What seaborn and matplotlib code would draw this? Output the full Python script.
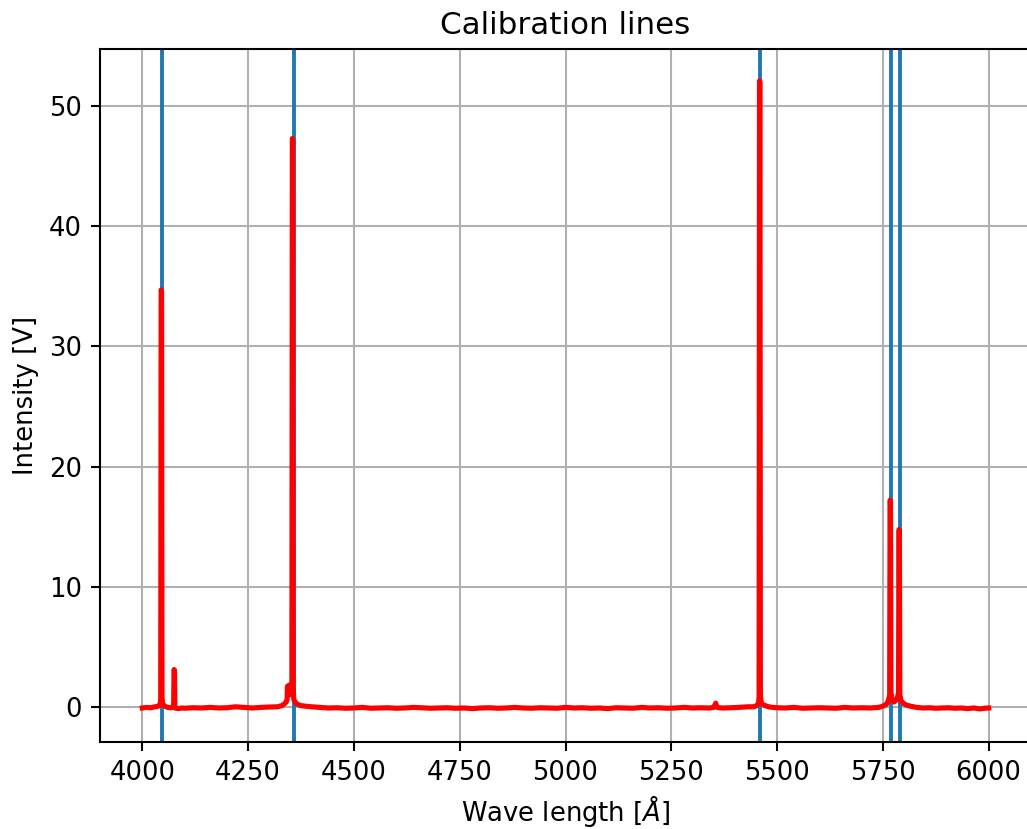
import matplotlib
matplotlib.use("Agg")
import matplotlib.pyplot as plt
import seaborn as sns
import pandas as pd

plt.rcParams["path.simplify"] = False

# Mercury calibration line positions (Angstrom)
calibration_lines = [4046.56, 4358.33, 5460.74, 5769.60, 5790.66]

wl_a = [4000, 4010, 4020, 4030, 4038, 4042, 4043.5, 4044.5, 4045.5, 4046.5, 4048, 4053, 4060,
        4068, 4074, 4075, 4076, 4077, 4085, 4095]
in_a = [-0.10, -0.05, -0.08, 0.00, 0.05, 0.15, 0.6, 34.7, 34.6, 0.8, 0.25, 0.05, -0.05,
        -0.08, 0.0, 3.1, 3.0, -0.1, -0.15, -0.10]

wl_b = [4100, 4120, 4140, 4160, 4180, 4200, 4220, 4240, 4260, 4280, 4300, 4320,
        4330, 4336, 4340, 4342, 4343, 4347, 4349, 4352, 4353.5, 4354.5, 4355.5, 4356.5,
        4358, 4362, 4367, 4375, 4385, 4400]
in_b = [-0.12, -0.08, -0.10, -0.05, -0.10, -0.08, 0.00, -0.05, -0.10, -0.05, -0.02, 0.00,
        0.10, 0.25, 0.40, 0.60, 1.7, 1.8, 1.0, 1.2, 2.0, 47.3, 47.2, 1.5,
        0.6, 0.35, 0.20, 0.10, 0.05, 0.00]

wl_c = [4420, 4440, 4460, 4480, 4500, 4520, 4540, 4560, 4580, 4600, 4620, 4640,
        4660, 4680, 4700, 4720, 4740, 4760, 4780, 4800, 4820, 4840, 4860, 4880,
        4900, 4920, 4940, 4960, 4980, 5000, 5020, 5040, 5060, 5080, 5100, 5120,
        5140, 5160, 5180, 5200, 5220, 5240, 5260, 5280, 5300, 5320, 5340, 5350,
        5355, 5358, 5370, 5390, 5410, 5430, 5445]
in_c = [-0.05, -0.10, -0.08, -0.12, -0.10, -0.05, -0.12, -0.10, -0.08, -0.12, -0.10, -0.05,
        -0.08, -0.12, -0.10, -0.08, -0.12, -0.10, -0.15, -0.10, -0.08, -0.12, -0.10, -0.05,
        -0.10, -0.12, -0.08, -0.10, -0.12, -0.05, -0.10, -0.08, -0.12, -0.10, -0.15, -0.08,
        -0.10, -0.12, -0.05, -0.10, -0.08, -0.12, -0.10, -0.05, -0.10, -0.08, -0.10, -0.05,
        0.30, -0.05, -0.10, -0.08, -0.05, 0.00, 0.00]

wl_d = [5452, 5456, 5457.5, 5458.5, 5459.5, 5460.5, 5462, 5466, 5472, 5480, 5490, 5500, 5520,
        5540, 5560, 5580, 5600, 5620, 5640, 5660, 5680, 5700, 5720, 5740, 5750,
        5758, 5763, 5766, 5767, 5768, 5769, 5772, 5776, 5780, 5784, 5787, 5788,
        5789, 5790, 5793, 5798, 5805, 5815]
in_d = [0.10, 0.30, 0.8, 52.1, 52.0, 1.0, 0.40, 0.20, 0.10, 0.00, -0.05, -0.08, -0.10,
        -0.05, -0.12, -0.10, -0.08, -0.10, -0.12, -0.05, -0.10, -0.08, -0.10, -0.05, 0.05,
        0.20, 0.50, 1.0, 17.2, 17.1, 1.2, 0.60, 0.40, 0.50, 0.70, 1.2, 14.75,
        14.7, 1.0, 0.50, 0.30, 0.15, 0.05]

wl_e = [5830, 5845, 5860, 5875, 5890, 5905, 5920, 5935, 5950, 5965, 5980, 5990, 6000]
in_e = [-0.05, -0.10, -0.08, -0.12, -0.10, -0.08, -0.12, -0.10, -0.15, -0.10, -0.18, -0.12, -0.10]

df = pd.DataFrame({
    "wavelength": wl_a + wl_b + wl_c + wl_d + wl_e,
    "intensity": in_a + in_b + in_c + in_d + in_e,
})

DPI = 186
fig = plt.figure(figsize=(1027 / DPI, 829 / DPI), dpi=DPI)
ax = fig.add_axes([100 / 1027, 87 / 829, 931 / 1027, 693 / 829])
ax.grid(True, color="#b0b0b0", linewidth=0.8)
ax.set_axisbelow(True)

for lam in calibration_lines:
    ax.axvline(lam, color="#1f77b4", linewidth=1.5, zorder=2)
sns.lineplot(data=df, x="wavelength", y="intensity", color="red", linewidth=2.0,
             ax=ax, estimator=None, zorder=3)

ax.set_xticks([4000, 4250, 4500, 4750, 5000, 5250, 5500, 5750, 6000])
ax.set_xlim(3900, 6100)
ax.set_ylim(-2.93, 54.75)
ax.set_title("Calibration lines", fontsize=12)
ax.set_xlabel(r"Wave length [$\AA$]", fontsize=10, labelpad=2.5)
ax.set_ylabel("Intensity [V]", fontsize=10)
ax.tick_params(labelsize=10)

fig.savefig("out.png", dpi=DPI)
